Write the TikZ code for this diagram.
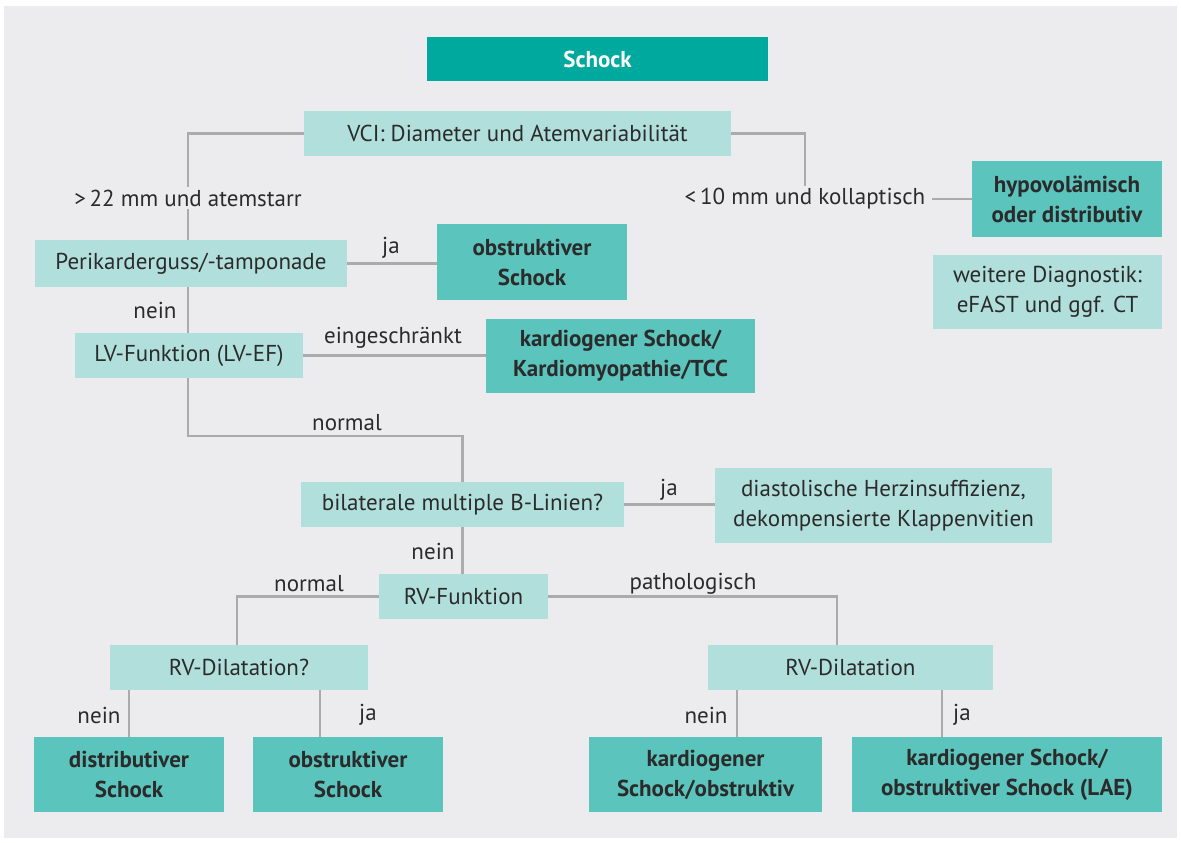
\documentclass[tikz,border=0pt]{standalone}
\usepackage{fontspec}
\setmainfont{PT Sans}
\definecolor{panel}{HTML}{ECECEE}
\definecolor{light}{HTML}{B1DFDB}
\definecolor{dark}{HTML}{5BC4BD}
\definecolor{title}{HTML}{00A99D}
\definecolor{conn}{HTML}{ABABAB}
\definecolor{txt}{HTML}{2B2B2B}
\tikzset{
  box/.style={rectangle, inner sep=0pt, align=center, text=txt, font=\fontsize{23}{30}\selectfont},
  lbox/.style={box, fill=light},
  dbox/.style={box, fill=dark, font=\fontsize{23}{30}\selectfont\bfseries},
  lab/.style={inner sep=2pt, text=txt, font=\fontsize{23}{26}\selectfont},
  ln/.style={draw=conn, line width=2.5pt}
}
\newcommand{\bx}[6]{\node[#1, minimum width=#4pt-#2pt, minimum height=#5pt-#3pt] (#6) at ({(#2+#4)/2},{(#3+#5)/2})}
\begin{document}
\begin{tikzpicture}[x=1pt,y=-1pt]
\useasboundingbox (0,0) rectangle (1181,843);
\fill[white] (0,0) rectangle (1181,843);
\fill[panel] (4,6) rectangle (1177,838);
% boxes
\bx{box, fill=title, text=white, font=\fontsize{23}{26}\selectfont\bfseries}{427}{37}{768}{81}{schock} {Schock};
\bx{lbox}{304}{111}{731}{156}{vci} {VCI: Diameter und Atemvariabilität};
\bx{dbox}{972}{161}{1162}{237}{hypo} {hypovolämisch\\oder distributiv};
\bx{lbox}{933}{255}{1162}{329}{weit} {weitere Diagnostik:\\eFAST und ggf. CT};
\bx{lbox}{35}{240}{347}{287}{peri} {Perikarderguss/-tamponade};
\bx{dbox}{437}{224}{627}{300}{obs1} {obstruktiver\\Schock};
\bx{lbox}{75}{333}{303}{378}{lv} {LV-Funktion (LV-EF)};
\bx{dbox}{486}{319}{755}{393}{kard1} {kardiogener Schock/\\Kardiomyopathie/TCC};
\bx{lbox}{301}{482}{624}{527}{bil} {bilaterale multiple B-Linien?};
\bx{lbox}{715}{468}{1052}{543}{dia} {diastolische Herzinsuffizienz,\\dekompensierte Klappenvitien};
\bx{lbox}{379}{574}{548}{619}{rvf} {RV-Funktion};
\bx{lbox}{110}{645}{368}{690}{rvd1} {RV-Dilatation?};
\bx{lbox}{708}{645}{993}{690}{rvd2} {RV-Dilatation};
\bx{dbox}{34}{737}{224}{812}{dist} {distributiver\\Schock};
\bx{dbox}{253}{737}{443}{812}{obs2} {obstruktiver\\Schock};
\bx{dbox}{589}{737}{822}{812}{kard2} {kardiogener\\Schock/obstruktiv};
\bx{dbox}{852}{737}{1162}{812}{kard3} {kardiogener Schock/\\obstruktiver Schock (LAE)};
% labels
\node[lab] (l22) at (188,198) {>\,22 mm und atemstarr};
\node[lab] (l10) at (805,199) {<\,10 mm und kollaptisch};
\coordinate (c10) at (932,199);
\node[lab] at (391,248) {ja};
\node[lab] at (155,310) {nein};
\node[lab] at (393,338) {eingeschränkt};
\node[lab] at (347,423) {normal};
\node[lab] at (669,490) {ja};
\node[lab] at (433,551) {nein};
\node[lab] at (309,584) {normal};
\node[lab] at (693,584) {pathologisch};
\node[lab] at (99,715) {nein};
\node[lab] at (368,715) {ja};
\node[lab] at (706,715) {nein};
\node[lab] at (962,715) {ja};
% connectors
\coordinate (c1) at (188,436);
\draw[ln] (vci.west) -| (l22.north);
\draw[ln] (l22.south) -- (l22.south |- peri.north);
\draw[ln] (vci.east) -| (l10.north);
\draw[ln] (c10) -- (hypo.west |- c10);
\draw[ln] (peri.east) -- (obs1.west |- peri.east);
\draw[ln] (188,287) coordinate (p1) -- (p1 |- lv.north);
\draw[ln] (lv.east) -- (kard1.west |- lv.east);
\draw[ln] (188,378) -- (c1) -| (bil.north);
\draw[ln] (bil.east) -- (dia.west |- bil.east);
\draw[ln] (bil.south) -- (rvf.north -| bil.south);
\draw[ln] (rvf.west) -| (237,645) coordinate (c2);
\draw[ln] (rvf.east) -| (837,645) coordinate (c3);
\draw[ln] (129,690) -- (dist.north -| 129,0);
\draw[ln] (320,690) -- (obs2.north -| 320,0);
\draw[ln] (737,690) -- (kard2.north -| 737,0);
\draw[ln] (942,690) -- (kard3.north -| 942,0);
\end{tikzpicture}
\end{document}
